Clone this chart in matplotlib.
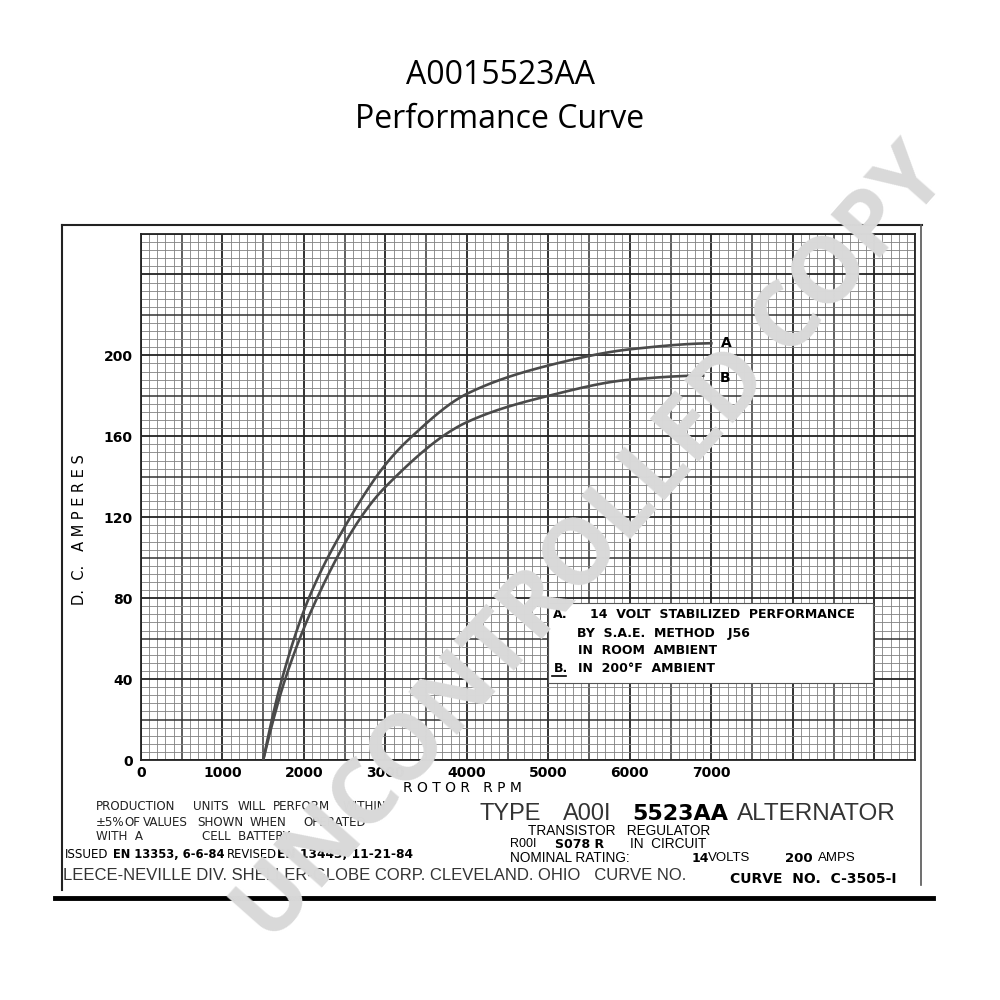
import matplotlib
matplotlib.use("Agg")
import matplotlib.pyplot as plt
import numpy as np

# curve values (rpm, amps)
rpm_a = [1500, 1730, 2060, 2570, 3000, 3300, 4000, 5000, 6000, 7000]
amps_a = [0, 40, 80, 120, 146, 159, 181, 195, 203, 206]
rpm_b = [1500, 1770, 2160, 2700, 3000, 4000, 5000, 6000, 6900]
amps_b = [0, 40, 80, 120, 135, 167, 180, 188, 190]

x_ticks = [0, 1000, 2000, 3000, 4000, 5000, 6000, 7000]
y_ticks = [0, 40, 80, 120, 160, 200]


def pchip(xs, ys, n=300):
	# monotone cubic through the read points
	x = np.array(xs, float)
	y = np.array(ys, float)
	h = np.diff(x)
	d = np.diff(y) / h
	m = np.zeros_like(y)
	for k in range(1, len(x) - 1):
		if d[k - 1] * d[k] > 0:
			w1 = 2 * h[k] + h[k - 1]
			w2 = h[k] + 2 * h[k - 1]
			m[k] = (w1 + w2) / (w1 / d[k - 1] + w2 / d[k])
	m[0] = ((2 * h[0] + h[1]) * d[0] - h[0] * d[1]) / (h[0] + h[1])
	m[-1] = ((2 * h[-1] + h[-2]) * d[-1] - h[-1] * d[-2]) / (h[-1] + h[-2])
	if m[-1] * d[-1] < 0:
		m[-1] = 0
	xx = np.linspace(x[0], x[-1], n)
	idx = np.clip(np.searchsorted(x, xx) - 1, 0, len(x) - 2)
	t = (xx - x[idx]) / h[idx]
	h00 = 2 * t**3 - 3 * t**2 + 1
	h10 = t**3 - 2 * t**2 + t
	h01 = -2 * t**3 + 3 * t**2
	h11 = t**3 - t**2
	yy = h00 * y[idx] + h10 * h[idx] * m[idx] + h01 * y[idx + 1] + h11 * h[idx] * m[idx + 1]
	return xx, yy


fig = plt.figure(figsize=(10, 10), dpi=100)

ax = fig.add_axes([0.141, 0.240, 0.774, 0.526])
ax.set_xlim(0, 9500)
ax.set_ylim(0, 260)

for x in range(0, 9501, 100):
	if x % 1000 == 0:
		ax.axvline(x, color='#222222', lw=1.3, zorder=1)
	elif x % 500 == 0:
		ax.axvline(x, color='#333333', lw=1.1, zorder=1)
	else:
		ax.axvline(x, color='#808080', lw=0.6, zorder=1)
for y in range(0, 261, 4):
	if y % 40 == 0:
		ax.axhline(y, color='#222222', lw=1.3, zorder=1)
	elif y % 20 == 0:
		ax.axhline(y, color='#333333', lw=1.1, zorder=1)
	else:
		ax.axhline(y, color='#808080', lw=0.6, zorder=1)

xa, ya = pchip(rpm_a, amps_a)
xb, yb = pchip(rpm_b, amps_b)
ax.plot(xa, ya, color='#4a4a4a', lw=1.9, zorder=3)
ax.plot(xb, yb, color='#4a4a4a', lw=1.9, zorder=3)
ax.text(7120, 206, "A", fontsize=10, fontweight='bold', ha='left', va='center', zorder=4)
ax.text(7100, 189, "B", fontsize=10, fontweight='bold', ha='left', va='center', zorder=4)

ax.set_xticks(x_ticks)
ax.set_yticks(y_ticks)
ax.set_xticklabels([str(v) for v in x_ticks], fontsize=10, fontweight='bold')
ax.set_yticklabels([str(v) for v in y_ticks], fontsize=10, fontweight='bold')
ax.tick_params(axis='x', length=0, pad=4)
ax.tick_params(axis='y', length=0, pad=6)
for s in ax.spines.values():
	s.set_color('#222222')
	s.set_linewidth(1.3)

# legend box
ax.add_patch(plt.Rectangle((4990, 38), 4000, 39.5, facecolor='white', edgecolor='#555555', lw=0.8, zorder=5))

# overlay in pixel coordinates for the page texts
ov = fig.add_axes([0, 0, 1, 1], zorder=10)
ov.set_xlim(0, 1000)
ov.set_ylim(1000, 0)
ov.axis('off')
ov.patch.set_alpha(0)

ov.text(500, 75, "A0015523AA", fontsize=23, family='Open Sans', ha='center', va='center')
ov.text(500, 120, "Performance Curve", fontsize=23, family='Open Sans', ha='center', va='center')

# page frame
ov.plot([62, 62], [225, 890], color='#222222', lw=1.5)
ov.plot([62, 922], [225, 225], color='#222222', lw=1.5)
ov.plot([921, 921], [225, 885], color='#555555', lw=1.2)
ov.plot([55, 933], [898, 898], color='black', lw=3.5)

ov.text(80, 530, "D.  C.   A M P E R E S", fontsize=10.5, rotation=90, ha='center', va='center')
ov.text(462, 788, "R O T O R   R P M", fontsize=10, ha='center', va='center')

# legend text
lt = dict(fontsize=9, fontweight='bold', va='center', ha='left')
ov.text(553, 615, "A.", **lt)
ov.text(590, 615, "14  VOLT  STABILIZED  PERFORMANCE", **lt)
ov.text(577, 633, "BY  S.A.E.  METHOD   J56", **lt)
ov.text(578, 650, "IN  ROOM  AMBIENT", **lt)
ov.text(554, 668, "B.", **lt)
ov.text(578, 668, "IN  200°F  AMBIENT", **lt)
ov.plot([552, 566], [676, 676], color='black', lw=1.2)

# bottom notes, placed word by word
nt = dict(fontsize=8.6, va='center', ha='left', color='#222222')
note_words = [
	(96, 807, "PRODUCTION"), (193, 807, "UNITS"), (238, 807, "WILL"), (273, 807, "PERFORM"), (343, 807, "WITHIN"),
	(96, 822, "±5%"), (124, 822, "OF"), (143, 822, "VALUES"), (197, 822, "SHOWN"), (250, 822, "WHEN"), (303, 822, "OPERATED"),
	(96, 836, "WITH  A"), (202, 836, "CELL  BATTERY."),
]
for nx, ny, w in note_words:
	ov.text(nx, ny, w, **nt)
ov.text(65, 855, "ISSUED", fontsize=8.6, va='center', ha='left')
ov.text(113, 855, "EN 13353, 6-6-84", fontsize=8.3, fontweight='bold', va='center', ha='left')
ov.text(227, 855, "REVISED", fontsize=8.3, va='center', ha='left')
ov.text(277, 855, "EN 13443, 11-21-84", fontsize=8.8, fontweight='bold', va='center', ha='left')
ov.text(63, 876, "LEECE-NEVILLE DIV. SHELLER-GLOBE CORP. CLEVELAND. OHIO   CURVE NO.",
	fontsize=12, family='Liberation Sans', color='#333333', va='center', ha='left')

ov.text(480, 814, "TYPE", fontsize=17, family='Liberation Sans', color='#333333', va='center', ha='left')
ov.text(563, 814, "A00I", fontsize=17, family='Liberation Sans', color='#333333', va='center', ha='left')
ov.text(632, 814, "5523AA", fontsize=16, fontweight='bold', va='center', ha='left')
ov.text(737, 814, "ALTERNATOR", fontsize=17.5, family='Liberation Sans', color='#333333', va='center', ha='left')
ov.text(528, 831, "TRANSISTOR   REGULATOR", fontsize=9.8, family='Liberation Sans', va='center', ha='left')
ov.text(510, 844, "R00I", fontsize=9, family='Liberation Sans', va='center', ha='left')
ov.text(555, 844, "S078 R", fontsize=9, fontweight='bold', va='center', ha='left')
ov.text(630, 844, "IN  CIRCUIT", fontsize=9.8, family='Liberation Sans', va='center', ha='left')
ov.text(510, 858, "NOMINAL RATING:", fontsize=9.8, family='Liberation Sans', va='center', ha='left')
ov.text(692, 858, "14", fontsize=9, fontweight='bold', va='center', ha='left')
ov.text(708, 858, "VOLTS", fontsize=9.5, family='Liberation Sans', va='center', ha='left')
ov.text(785, 858, "200", fontsize=9.5, fontweight='bold', va='center', ha='left')
ov.text(818, 858, "AMPS", fontsize=9.5, family='Liberation Sans', va='center', ha='left')
ov.text(730, 879, "CURVE  NO.  C-3505-I", fontsize=10, fontweight='bold', va='center', ha='left')

# watermark
ov.text(593, 546, "UNCONTROLLED COPY", fontsize=66, fontweight='bold', family='Open Sans',
	color='#d9d9d9', rotation=48.5, ha='center', va='center', rotation_mode='anchor')

fig.savefig("out.png", dpi=100)
